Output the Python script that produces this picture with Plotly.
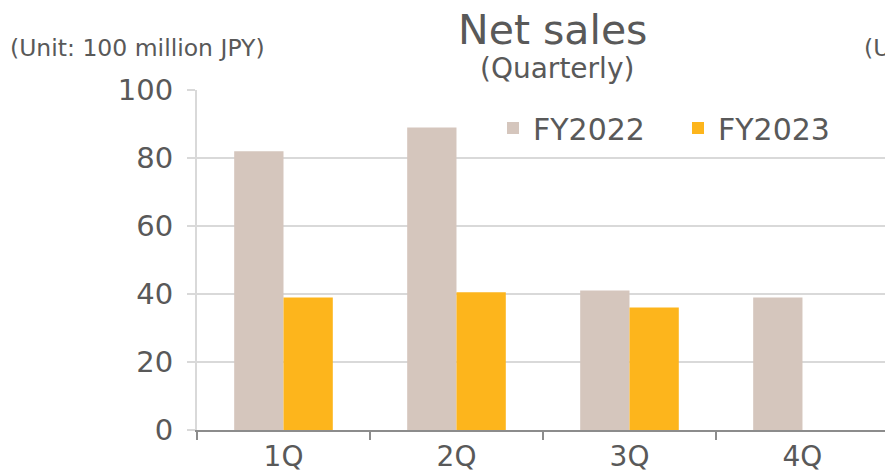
import plotly.graph_objects as go

quarters = ["1Q", "2Q", "3Q", "4Q"]
fy2022 = [82, 89, 41, 39]
fy2023 = [39, 40.5, 36, None]
series_names = ["FY2022", "FY2023"]
y_ticks = [0, 20, 40, 60, 80, 100]

W, H = 885, 470
ML, MR, MT, MB = 197, 0, 90, 40
PW, PH = W - ML - MR, H - MT - MB

def px_x(sx):
    return (sx - ML) / PW

def px_y(sy):
    return (H - MB - sy) / PH

FONT = "DejaVu Sans, Noto Sans CJK JP"
TXT = "#595959"

fig = go.Figure()
fig.add_trace(go.Bar(x=quarters, y=fy2022, name=series_names[0],
                     marker=dict(color="#D5C6BD", line=dict(width=0))))
fig.add_trace(go.Bar(x=quarters, y=fy2023, name=series_names[1],
                     marker=dict(color="#FDB51C", line=dict(width=0))))

fig.update_layout(
    width=W, height=H,
    margin=dict(l=ML, r=MR, t=MT, b=MB, autoexpand=False),
    paper_bgcolor="white", plot_bgcolor="white",
    font=dict(family=FONT, color=TXT),
    barmode="group", bargap=0.43, bargroupgap=0,
    showlegend=True,
    legend=dict(orientation="h", x=px_x(493), y=px_y(102), xanchor="left", yanchor="top",
                font=dict(size=30, color=TXT, family=FONT), bgcolor="rgba(0,0,0,0)",
                itemwidth=30, traceorder="normal", entrywidth=140, entrywidthmode="pixels"),
    xaxis=dict(range=[-0.5, 3.477], showgrid=False, showline=True, linecolor="#8C8C8C", linewidth=2,
               ticks="outside", tickson="boundaries", ticklen=8, tickcolor="#8C8C8C", tickwidth=2,
               tickfont=dict(size=28, color=TXT), fixedrange=True, automargin=False),
    yaxis=dict(range=[0, 100], tickvals=y_ticks, showgrid=True, gridcolor="#D9D9D9", gridwidth=2,
               showline=True, linecolor="#D9D9D9", linewidth=2, zeroline=False,
               ticks="outside", ticklen=8, tickcolor="#D9D9D9", tickwidth=2,
               ticklabelstandoff=8, automargin=False,
               tickfont=dict(size=29, color=TXT), fixedrange=True),
    annotations=[
        dict(text="Net sales", x=px_x(552), y=px_y(30), xref="paper", yref="paper",
             xanchor="center", yanchor="middle", showarrow=False,
             font=dict(size=41, color=TXT, family=FONT)),
        dict(text="(Quarterly)", x=px_x(557), y=px_y(68), xref="paper", yref="paper",
             xanchor="center", yanchor="middle", showarrow=False,
             font=dict(size=28, color=TXT, family=FONT)),
        dict(text="(Unit: 100 million JPY)", x=px_x(8), y=px_y(48), xref="paper", yref="paper",
             xanchor="left", yanchor="middle", showarrow=False,
             font=dict(size=23.5, color=TXT, family=FONT)),
        dict(text="(Unit: 100 million JPY)", x=px_x(862), y=px_y(48), xref="paper", yref="paper",
             xanchor="left", yanchor="middle", showarrow=False,
             font=dict(size=23.5, color=TXT, family=FONT)),
    ],
)

fig.write_html("out.html", config={"displayModeBar": False},
               post_script="document.body.style.margin='0';document.body.style.overflow='hidden';")
